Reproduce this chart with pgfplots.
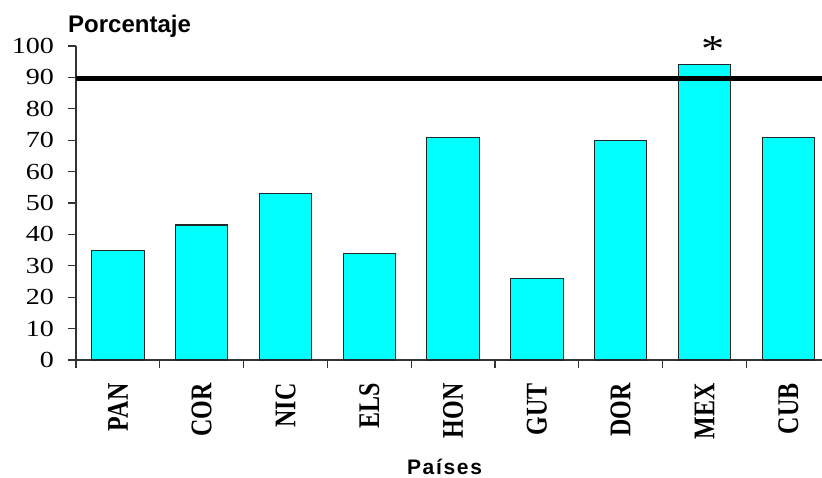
\documentclass[border=0pt]{standalone}
\usepackage{pgfplots}
\pgfplotsset{compat=1.18}
\usepackage{fontspec}
\setmainfont{Liberation Serif}
\newfontfamily\arialfont{Liberation Sans}
\newfontfamily\arialspaced[LetterSpace=8]{Liberation Sans}
\newfontfamily\tickfont[FakeStretch=1.22]{Liberation Serif}
\newfontfamily\catfont[FakeStretch=0.8]{Liberation Serif}
\definecolor{barcyan}{RGB}{0,255,255}
\begin{document}
\begin{tikzpicture}
\useasboundingbox (-76pt,-118pt) rectangle (746pt,360pt);
\begin{axis}[
  at={(0pt,0pt)}, anchor=south west,
  scale only axis, width=746pt, height=314pt,
  xmin=-0.5, xmax=8.402, ymin=0, ymax=100,
  axis x line=bottom, axis y line=left,
  axis line style={-, line width=1.2pt, black!80},
  xtick={0,...,8}, xticklabels={PAN,COR,NIC,ELS,HON,GUT,DOR,MEX,CUB},
  xtick align=inside, ytick align=outside,
  major tick length=8pt,
  tick style={line width=1.2pt, black!80},
  extra x ticks={-0.5,0.5,1.5,2.5,3.5,4.5,5.5,6.5,7.5},
  extra x tick labels={},
  extra x tick style={xtick align=outside},
  ytick={0,10,...,100},
  yticklabel style={font=\tickfont\fontsize{23}{23}\selectfont, xshift=-10.5pt},
  xticklabel style={font=\catfont\bfseries\fontsize{30}{30}\selectfont, rotate=90, anchor=east, xshift=-20pt},
  /pgf/number format/assume math mode=true,
  clip=false,
]
\addplot[ybar, bar width=0.625, fill=barcyan, draw=black!85, line width=1.1pt] coordinates {(0,35) (1,43) (2,53) (3,34) (4,71) (5,26) (6,70) (7,94) (8,71)};
\addplot[line width=5pt, black] coordinates {(-0.5,89.8) (8.402,89.8)};
\node[anchor=north, inner sep=0pt, font=\tickfont\fontsize{38}{38}\selectfont] at (axis cs:7.1,103) {*};
\end{axis}
\node[anchor=base west, inner sep=0pt, font=\arialfont\bfseries\fontsize{24}{24}\selectfont] at (-8pt,327pt) {Porcentaje};
\node[anchor=base, inner sep=0pt, font=\arialspaced\bfseries\fontsize{21}{21}\selectfont] at (368.5pt,-114.5pt) {Países};
\end{tikzpicture}
\end{document}
